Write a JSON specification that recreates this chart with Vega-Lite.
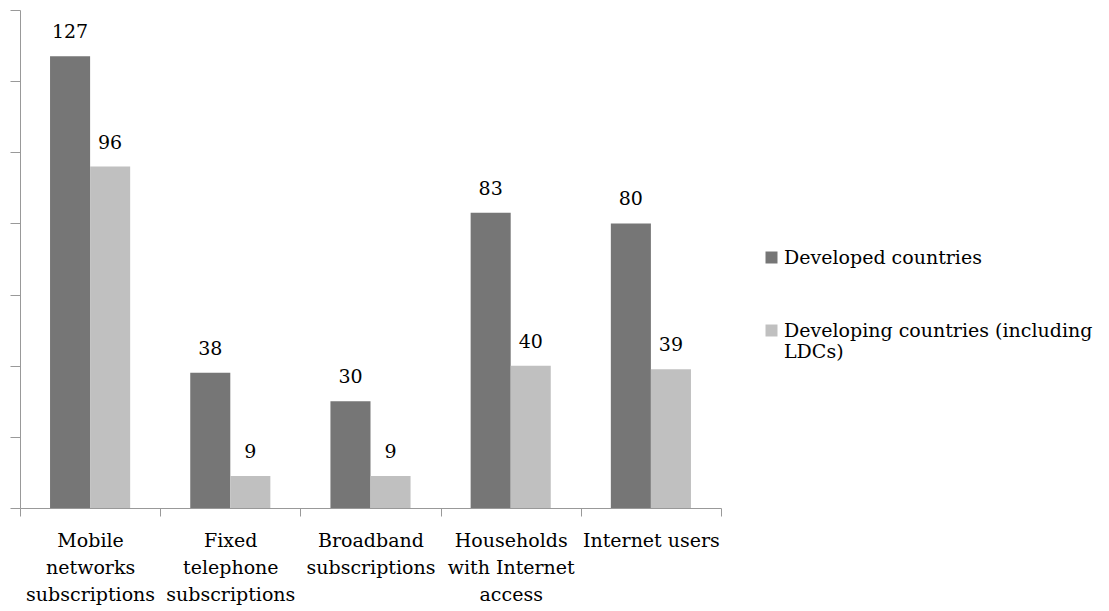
{
  "$schema": "https://vega.github.io/schema/vega-lite/v6.json",
  "width": 701,
  "height": 498,
  "autosize": "none",
  "padding": {"left": 20, "top": 10, "right": 388, "bottom": 103},
  "config": {
    "view": {"stroke": null},
    "font": "DejaVu Serif"
  },
  "data": {"values": [
    {"category": "Mobile networks subscriptions", "group": "Developed countries", "value": 127},
    {"category": "Mobile networks subscriptions", "group": "Developing countries (including LDCs)", "value": 96},
    {"category": "Fixed telephone subscriptions", "group": "Developed countries", "value": 38},
    {"category": "Fixed telephone subscriptions", "group": "Developing countries (including LDCs)", "value": 9},
    {"category": "Broadband subscriptions", "group": "Developed countries", "value": 30},
    {"category": "Broadband subscriptions", "group": "Developing countries (including LDCs)", "value": 9},
    {"category": "Households with Internet access", "group": "Developed countries", "value": 83},
    {"category": "Households with Internet access", "group": "Developing countries (including LDCs)", "value": 40},
    {"category": "Internet users", "group": "Developed countries", "value": 80},
    {"category": "Internet users", "group": "Developing countries (including LDCs)", "value": 39}
  ]},
  "encoding": {
    "x": {
      "field": "category", "type": "nominal", "sort": null,
      "scale": {"paddingInner": 0, "paddingOuter": 0},
      "axis": {
        "title": null, "labelAngle": 0, "tickBand": "extent", "tickSize": 8,
        "labelFontSize": 19, "labelColor": "black", "labelPadding": 15, "labelLineHeight": 27,
        "labelLimit": 0, "domainColor": "#999999", "tickColor": "#999999",
        "labelFont": "DejaVu Serif",
        "labelExpr": "datum.value == 'Mobile networks subscriptions' ? ['Mobile','networks','subscriptions'] : datum.value == 'Fixed telephone subscriptions' ? ['Fixed','telephone','subscriptions'] : datum.value == 'Broadband subscriptions' ? ['Broadband','subscriptions'] : datum.value == 'Households with Internet access' ? ['Households','with Internet','access'] : datum.value"
      }
    },
    "xOffset": {"field": "group", "type": "nominal", "sort": null, "scale": {"paddingOuter": 0.75, "paddingInner": 0}},
    "y": {
      "field": "value", "type": "quantitative",
      "scale": {"domain": [0, 140]},
      "axis": {
        "title": null, "grid": false, "labels": false, "tickSize": 10,
        "values": [0, 20, 40, 60, 80, 100, 120, 140],
        "domainColor": "#999999", "tickColor": "#999999"
      }
    }
  },
  "layer": [
    {
      "mark": {"type": "bar"},
      "encoding": {
        "color": {
          "field": "group", "type": "nominal",
          "scale": {"domain": ["Developed countries", "Developing countries (including LDCs)"], "range": ["#767676", "#c0c0c0"]},
          "legend": {
            "title": null, "orient": "none", "legendX": 742, "legendY": 238,
            "symbolType": "square", "symbolSize": 144, "symbolStrokeWidth": 0,
            "labelFont": "DejaVu Serif",
            "labelFontSize": 19, "labelColor": "black", "labelLimit": 0, "labelOffset": 3,
            "labelLineHeight": 27, "rowPadding": 53, "padding": 0,
            "labelExpr": "datum.label == 'Developing countries (including LDCs)' ? ['Developing countries (including','LDCs)'] : datum.label"
          }
        }
      }
    },
    {
      "mark": {"type": "text", "dy": -18, "baseline": "alphabetic", "fontSize": 19, "color": "black", "font": "DejaVu Serif"},
      "encoding": {"text": {"field": "value", "type": "quantitative"}}
    }
  ]
}
